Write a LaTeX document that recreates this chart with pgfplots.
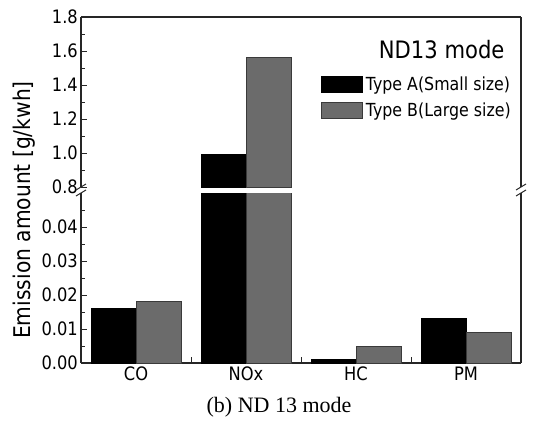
\documentclass[border=0pt]{standalone}
\usepackage{pgfplots}
\pgfplotsset{compat=1.18}
\usepackage{fontspec}
\setmainfont{DejaVu Sans}[FakeStretch=0.88]
\newfontfamily\capfont{Liberation Serif}
\definecolor{barA}{HTML}{000000}
\definecolor{barB}{HTML}{6B6B6B}
\definecolor{edgeB}{HTML}{3A3A3A}

\pgfplotstableread{
x  A      B
0  0.016  0.018
1  0.99   1.56
2  0.001  0.005
3  0.013  0.009
}\datatable

\pgfplotsset{
  brk/.style={
    width=440pt, height=170pt, scale only axis,
    xmin=-0.5, xmax=3.5,
    ybar=0pt, bar width=45pt,
    tick align=inside,
    major tick length=6pt, minor tick length=3.5pt,
    ytick pos=left,
    scaled y ticks=false,
    axis line style={line width=1.1pt, black!85},
    every tick/.style={line width=0.9pt, black!85},
    /pgf/number format/assume math mode=true,
    tick label style={font=\fontsize{18.5}{21}\selectfont},
    yticklabel style={inner xsep=3pt},
  },
}

\begin{document}
\begin{tikzpicture}
\path[use as bounding box] (0,0) rectangle (537pt,-421pt);

% upper part
\begin{axis}[brk,
  at={(81pt,-17pt)}, anchor=north west,
  ymin=0.8, ymax=1.8,
  axis x line*=top,
  xtick=\empty,
  ytick={0.8,1.0,1.2,1.4,1.6,1.8},
  minor ytick={0.9,1.1,1.3,1.5,1.7},
  yticklabel style={/pgf/number format/fixed, /pgf/number format/fixed zerofill, /pgf/number format/precision=1},
  legend style={at={(0.545,0.655)}, anchor=north west, draw=none, fill=none,
    inner sep=0pt, row sep=9pt, font=\fontsize{18}{21}\selectfont,
    nodes={inner xsep=3pt, inner ysep=0pt}},
  legend cell align=left,
  legend image code/.code={\draw[#1] (0pt,-8pt) rectangle (41pt,8pt);},
]
\addplot[fill=barA, draw=black, line width=0.8pt, restrict y to domain=0.5:2] table[x=x, y=A] {\datatable};
\addplot[fill=barB, draw=edgeB, line width=0.8pt, restrict y to domain=0.5:2] table[x=x, y=B] {\datatable};
\legend{Type A(Small size), Type B(Large size)}
\end{axis}

% lower part
\begin{axis}[brk,
  at={(81pt,-193pt)}, anchor=north west,
  ymin=0, ymax=0.05,
  axis x line*=bottom,
  xtick={0.5,1.5,2.5},
  xticklabels={},
  extra x ticks={0,1,2,3},
  extra x tick labels={CO,NOx,HC,PM},
  extra x tick style={major tick length=0pt},
  xtick pos=bottom,
  ytick={0,0.01,0.02,0.03,0.04},
  minor ytick={0.005,0.015,0.025,0.035,0.045},
  yticklabel style={/pgf/number format/fixed, /pgf/number format/fixed zerofill, /pgf/number format/precision=2},
]
\addplot[fill=barA, draw=black, line width=0.8pt] table[x=x, y=A] {\datatable};
\addplot[fill=barB, draw=edgeB, line width=0.8pt] table[x=x, y=B] {\datatable};
\end{axis}

% break marks
\begin{scope}[line width=1pt, black!85]
\draw (76pt,-190pt) -- (86pt,-184pt);
\draw (76pt,-196pt) -- (86pt,-190pt);
\draw (516pt,-190pt) -- (526pt,-184pt);
\draw (516pt,-196pt) -- (526pt,-190pt);
\end{scope}

\node[anchor=base east, font=\fontsize{24}{28}\selectfont] at (508pt,-58pt) {ND13 mode};
\node[rotate=90, font=\fontsize{23}{26}\selectfont] at (24pt,-210pt) {Emission amount [g/kwh]};
\node[anchor=base, font=\capfont\fontsize{22}{26}\selectfont] at (279pt,-412pt) {(b) ND 13 mode};
\end{tikzpicture}
\end{document}
